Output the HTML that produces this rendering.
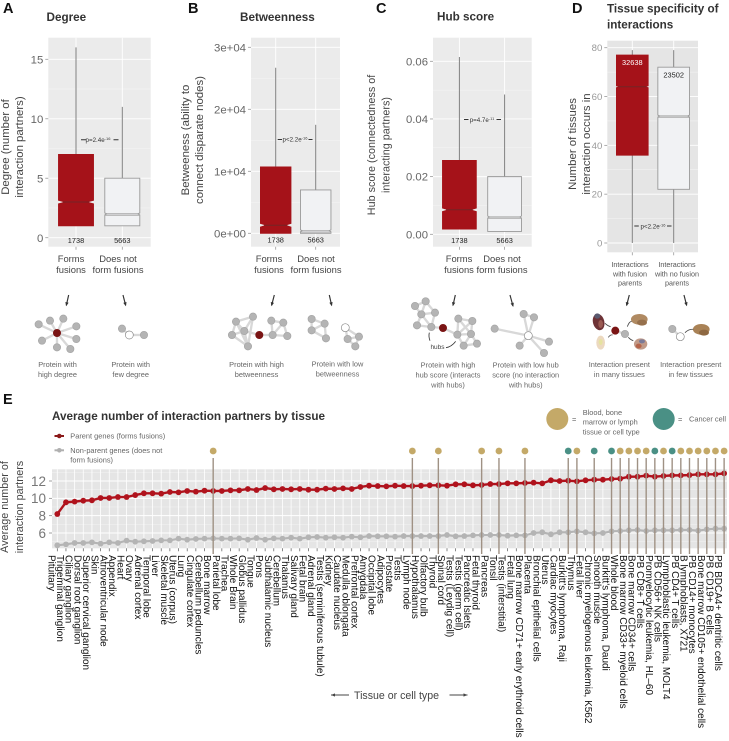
<!DOCTYPE html>
<html lang="en">
<head>
<meta charset="utf-8">
<title>Interaction network properties of fusion parents</title>
<style>
html,body{margin:0;padding:0;background:#fff;}
svg{display:block;font-family:"Liberation Sans",sans-serif;}
.letter{font-size:14.5px;font-weight:bold;fill:#111;}
.title{font-size:11.7px;font-weight:bold;fill:#333;}
.ytitle{font-size:10.8px;fill:#444;text-anchor:middle;}
.ytitle.wide{font-size:11.4px;}
.cat{font-size:9.4px;fill:#444;text-anchor:middle;}
.cat2{font-size:7.2px;fill:#555;text-anchor:middle;}
.cap{font-size:7.4px;fill:#666;text-anchor:middle;}
.pv{font-size:6.2px;fill:#333;text-anchor:middle;}
.leg{font-size:7.4px;fill:#666;}
</style>
</head>
<body>
<svg xmlns="http://www.w3.org/2000/svg" width="729" height="741" viewBox="0 0 729 741">
<rect width="729" height="741" fill="#fff"/>

<g id="panelA"></g>
<g id="panelB"></g>
<g id="panelC"></g>
<g id="panelD"></g>
<g id="nets"></g>
<g id="panelE"></g>

<!-- panel letters and titles -->
<text class="letter" x="3" y="13">A</text>
<text class="letter" x="188" y="13">B</text>
<text class="letter" x="376" y="13">C</text>
<text class="letter" x="572" y="13">D</text>
<text class="letter" x="3" y="404">E</text>
<text class="title" x="46.5" y="21">Degree</text>
<text class="title" x="240" y="21">Betweenness</text>
<text class="title" x="437" y="20.5">Hub score</text>
<text class="title" x="607" y="12.5">Tissue specificity of</text>
<text class="title" x="607" y="28.5">interactions</text>
<text class="title" x="52" y="420">Average number of interaction partners by tissue</text>

<!-- y axis titles -->
<g>
<text class="ytitle wide" transform="translate(9,147) rotate(-90)">Degree (number of</text>
<text class="ytitle wide" transform="translate(23,147) rotate(-90)">interaction partners)</text>
</g>
<g>
<text class="ytitle wide" transform="translate(189,140) rotate(-90)">Betweeness (ability to</text>
<text class="ytitle wide" transform="translate(203,140) rotate(-90)">connect disparate nodes)</text>
</g>
<g>
<text class="ytitle" transform="translate(375,145) rotate(-90)">Hub score (connectedness of</text>
<text class="ytitle" transform="translate(389.5,145) rotate(-90)">interacting partners)</text>
</g>
<g>
<text class="ytitle wide" transform="translate(576,144) rotate(-90)">Number of tissues</text>
<text class="ytitle wide" transform="translate(590,144) rotate(-90)">interaction occurs in</text>
</g>
<g>
<text class="ytitle" transform="translate(8,507) rotate(-90)">Average number of</text>
<text class="ytitle" transform="translate(23,507) rotate(-90)">interaction partners</text>
</g>

<!-- category labels -->
<g>
<text class="cat" x="71" y="262">Forms</text><text class="cat" x="71" y="273">fusions</text>
<text class="cat" x="118" y="262">Does not</text><text class="cat" x="118" y="273">form fusions</text>
</g>
<g>
<text class="cat" x="269" y="262">Forms</text><text class="cat" x="269" y="273">fusions</text>
<text class="cat" x="316" y="262">Does not</text><text class="cat" x="316" y="273">form fusions</text>
</g>
<g>
<text class="cat" x="459" y="262">Forms</text><text class="cat" x="459" y="273">fusions</text>
<text class="cat" x="502" y="262">Does not</text><text class="cat" x="502" y="273">form fusions</text>
</g>
<g>
<text class="cat2" x="630" y="267">Interactions</text><text class="cat2" x="630" y="276.3">with fusion</text><text class="cat2" x="630" y="285.5">parents</text>
<text class="cat2" x="677" y="267">Interactions</text><text class="cat2" x="677" y="276.3">with no fusion</text><text class="cat2" x="677" y="285.5">parents</text>
</g>

<!-- p values -->
<g>
<text class="pv" x="98" y="142">p=2.4e<tspan dy="-2" font-size="4">-16</tspan></text>
<path d="M81 139.7h5M113.500 139.700h5" stroke="#333" stroke-width="1"/>
</g>
<g>
<text class="pv" x="295" y="141.500">p&lt;2.2e<tspan dy="-2" font-size="4">-16</tspan></text>
<path d="M277.700 139.500h4.300M308.500 139.500h4" stroke="#333" stroke-width="1"/>
</g>
<g>
<text class="pv" x="482" y="122">p=4.7e<tspan dy="-2" font-size="4">-11</tspan></text>
<path d="M464 119.500h4.500M496.500 119.500h4.500" stroke="#333" stroke-width="1"/>
</g>
<g>
<text class="pv" x="653" y="228.500">p&lt;2.2e<tspan dy="-2" font-size="4">-16</tspan></text>
<path d="M634.300 226h4.500M667 226h4.500" stroke="#333" stroke-width="1"/>
</g>

<!-- network captions -->
<g>
<text class="cap" x="57.500" y="367">Protein with</text><text class="cap" x="57.500" y="377">high degree</text>
<text class="cap" x="130.700" y="367">Protein with</text><text class="cap" x="130.700" y="377">few degree</text>
<text class="cap" x="256.500" y="367">Protein with high</text><text class="cap" x="256.500" y="377">betweenness</text>
<text class="cap" x="337.500" y="366.500">Protein with low</text><text class="cap" x="337.500" y="376.500">betweenness</text>
<text class="cap" x="448" y="367.500">Protein with high</text><text class="cap" x="448" y="377.500">hub score (interacts</text><text class="cap" x="448" y="387.500">with hubs)</text>
<text class="cap" x="525.700" y="367.500">Protein with low hub</text><text class="cap" x="525.700" y="377.500">score (no interaction</text><text class="cap" x="525.700" y="387.500">with hubs)</text>
<text class="cap" x="619.300" y="367">Interaction present</text><text class="cap" x="619.300" y="377">in many tissues</text>
<text class="cap" x="690.700" y="367">Interaction present</text><text class="cap" x="690.700" y="377">in few tissues</text>
<text class="cap" x="437.500" y="349" style="fill:#444;font-size:6.5px">hubs</text>
</g>

<!-- legends -->
<g>
<line x1="54.500" x2="64" y1="436" y2="436" stroke="#8b1a1a" stroke-width="2"/>
<circle cx="59.300" cy="436" r="2.300" fill="#8b1a1a"/>
<text class="leg" x="70.300" y="438.700">Parent genes (forms fusions)</text>
</g>
<g>
<line x1="54.500" x2="64" y1="450.300" y2="450.300" stroke="#b0b0b0" stroke-width="2"/>
<circle cx="59.300" cy="450.300" r="2.300" fill="#b0b0b0"/>
<text class="leg" x="70.300" y="453">Non-parent genes (does not</text>
<text class="leg" x="70.300" y="462.300">form fusions)</text>
</g>
<g>
<circle cx="557.300" cy="419" r="11" fill="#c4a968"/>
<text class="leg" x="572" y="422">=</text>
<text class="leg" x="582.700" y="415">Blood, bone</text>
<text class="leg" x="582.700" y="424.700">marrow or lymph</text>
<text class="leg" x="582.700" y="434.300">tissue or cell type</text>
</g>
<g>
<circle cx="663.700" cy="419" r="11" fill="#4a9085"/>
<text class="leg" x="678" y="422">=</text>
<text class="leg" x="689" y="421.700">Cancer cell</text>
</g>

<!-- x axis title for tissue chart -->
<g>
<text x="354" y="699" font-size="10.600" fill="#444">Tissue or cell type</text>
<path d="M331 695h18M449.500 695h18" stroke="#444" stroke-width="0.900"/>
<path d="M331 695l4-1.600v3.200zM467.500 695l-4-1.600v3.200z" fill="#444"/>
</g>

<script>
// ---------- Panel A: degree ----------
const degreeTicks = [0, 5, 10, 15];
const degreeTickLabels = ['0', '5', '10', '15'];
const degreeQ1 = [1, 1];
const degreeMedian = [3, 2];
const degreeQ3 = [7, 5];
const degreeWhiskerLow = [1, 1];
const degreeWhiskerHigh = [16, 11];
const degreeCounts = ['1738', '5663'];

// ---------- Panel B: betweenness ----------
const betweennessTicks = [0, 10000, 20000, 30000];
const betweennessTickLabels = ['0e+00', '1e+04', '2e+04', '3e+04'];
const betweennessQ1 = [0, 0];
const betweennessMedian = [1300, 400];
const betweennessQ3 = [10700, 7000];
const betweennessWhiskerLow = [0, 0];
const betweennessWhiskerHigh = [26700, 17500];
const betweennessCounts = ['1738', '5663'];

// ---------- Panel C: hub score ----------
const hubTicks = [0, 0.02, 0.04, 0.06];
const hubTickLabels = ['0.00', '0.02', '0.04', '0.06'];
const hubQ1 = [0.0018, 0.001];
const hubMedian = [0.0085, 0.006];
const hubQ3 = [0.0256, 0.02];
const hubWhiskerLow = [0.0018, 0.001];
const hubWhiskerHigh = [0.0615, 0.0485];
const hubCounts = ['1738', '5663'];

// ---------- Panel D: tissue specificity ----------
const tissueTicks = [0, 20, 40, 60, 80];
const tissueTickLabels = ['0', '20', '40', '60', '80'];
const tissueQ1 = [36, 22];
const tissueMedian = [64, 52];
const tissueQ3 = [77, 72];
const tissueWhiskerLow = [0, 0];
const tissueWhiskerHigh = [79, 79];
const tissueCounts = ['32638', '23502'];

// ---------- Panel E: interaction partners by tissue ----------
const tissues = ['Pituitary','Trigeminal ganglion','Ciliary ganglion','Dorsal root ganglion','Superior cervical ganglion','Skin','Atrioventricular node','Appendix','Heart','Ovary','Adrenal cortex','Temporal lobe','Liver','Skeletal muscle','Uterus (corpus)','Lung','Cingulate cortex','Cerebellum peduncles','Bone marrow','Parietal lobe','Trachea','Whole Brain','Globus pallidus','Tongue','Pons','Subthalamic nucleus','Cerebellum','Thalamus','Salivary gland','Fetal brain','Adrenal gland','Testis (seminiferous tubule)','Kidney','Caudate nucleus','Medulla oblongata','Prefrontal cortex','Amygdala','Occipital lobe','Adipocytes','Prostate','Testis','Lymph node','Hypothalamus','Olfactory bulb','Thyroid','Spinal cord','Testis (Leydig cell)','Testis (germ cell)','Pancreatic Islets','Fetal thyroid','Pancreas','Tonsil','Testis (interstitial)','Fetal lung','Bone marrow CD71+ early erythroid cells','Placenta','Bronchial epithelial cells','Uterus','Cardiac myocytes',"Burkitt's lymphoma, Raji",'Thymus','Fetal liver','Chronic myelogenous leukemia, K562','Smooth muscle',"Burkitt's lymphoma, Daudi",'Whole blood','Bone marrow CD33+ myeloid cells','Bone marrow CD34+ cells','PB CD8+ T cells','Promyelocytic leukemia, HL\u201360','PB CD56+ NK cells','Lymphoblastic leukemia, MOLT4','PB CD4+ T cells','B lymphoblasts, X721','PB CD14+ monocytes','Bone marrow CD105+ endothelial cells','PB CD19+ B cells','PB BDCA4+ dentritic cells'];
const parentValues = [8.19,9.54,9.62,9.73,9.77,10.04,10.04,10.15,10.15,10.38,10.58,10.58,10.54,10.73,10.69,10.85,10.77,10.88,10.85,10.85,10.92,10.92,11.08,10.96,11.19,11.04,11.08,11.04,11.08,11.00,11.00,11.12,11.08,11.15,11.08,11.31,11.46,11.42,11.38,11.46,11.42,11.42,11.46,11.50,11.50,11.46,11.62,11.62,11.50,11.54,11.65,11.65,11.73,11.73,11.77,11.81,11.73,12.08,12.00,12.04,11.96,12.08,12.15,12.15,12.23,12.27,12.50,12.50,12.62,12.50,12.58,12.65,12.65,12.69,12.77,12.77,12.77,12.88];
const nonParentValues = [4.58,4.69,4.85,4.85,4.92,4.77,4.92,4.85,5.12,5.00,5.04,5.08,5.15,5.15,5.35,5.23,5.31,5.35,5.38,5.35,5.35,5.38,5.23,5.42,5.23,5.38,5.35,5.46,5.35,5.50,5.54,5.46,5.50,5.46,5.58,5.50,5.65,5.62,5.62,5.58,5.65,5.65,5.65,5.65,5.65,5.77,5.62,5.65,5.73,5.77,5.77,5.77,5.69,5.73,5.73,6.00,6.08,5.85,6.08,6.08,6.19,6.08,5.96,6.00,6.19,6.23,6.31,6.35,6.23,6.31,6.31,6.31,6.35,6.35,6.27,6.42,6.50,6.50];
const tissueYTicks = [6, 8, 10, 12];
const tissueYMinorTicks = [5, 7, 9, 11, 13];
const highlightedTissues = ['Bone marrow','Lymph node','Thyroid','Fetal thyroid','Tonsil','Bone marrow CD71+ early erythroid cells','Thymus','Whole blood','Bone marrow CD33+ myeloid cells','Bone marrow CD34+ cells','PB CD8+ T cells','PB CD56+ NK cells','PB CD4+ T cells','B lymphoblasts, X721','PB CD14+ monocytes','Bone marrow CD105+ endothelial cells','PB CD19+ B cells','PB BDCA4+ dentritic cells'];
const cancerTissues = ["Burkitt's lymphoma, Raji",'Chronic myelogenous leukemia, K562',"Burkitt's lymphoma, Daudi",'Promyelocytic leukemia, HL\u201360','Lymphoblastic leukemia, MOLT4'];

const SVGNS = 'http://www.w3.org/2000/svg';
function mk(tag, attrs, parent) {
  const e = document.createElementNS(SVGNS, tag);
  for (const k in attrs) e.setAttribute(k, attrs[k]);
  parent.appendChild(e);
  return e;
}

function drawBoxPanel(o) {
  const g = document.getElementById(o.group);
  const y = v => o.yA + (v - o.vA) / (o.vB - o.vA) * (o.yB - o.yA);
  const x = i => o.cx0 + i * o.cxStep;
  const bg = mk('rect', {x: o.left, y: o.top, width: o.right - o.left, height: o.bottom - o.top, fill: o.bg}, g);
  
  
  // minor grid
  for (let i = 0; i < o.ticks.length - 1; i++) {
    const gm = mk('line', {x1: o.left, x2: o.right, y1: y((o.ticks[i] + o.ticks[i + 1]) / 2), y2: y((o.ticks[i] + o.ticks[i + 1]) / 2), stroke: '#f5f5f5', 'stroke-width': 0.5}, g);
    
    
  }
  o.ticks.forEach((t, i) => {
    const gl = mk('line', {x1: o.left, x2: o.right, y1: y(t), y2: y(t), stroke: '#fff', 'stroke-width': 0.9}, g);
    
    
    const tk = mk('line', {x1: o.left - 3, x2: o.left, y1: y(t), y2: y(t), stroke: '#999', 'stroke-width': 0.8}, g);
    
    
    const lb = mk('text', {x: o.left - 5, y: y(t) + o.tickSize * 0.36, 'text-anchor': 'end', 'font-size': o.tickSize, fill: o.tickColor}, g);
    lb.textContent = o.tickLabels[i];
    
    
  });
  o.median.forEach((m, i) => {
    const cx = x(i), l = cx - o.boxW / 2, r = cx + o.boxW / 2;
    const isRed = i === 0;
    const fill = isRed ? '#a51219' : '#f1f2f4';
    const stroke = isRed ? '#a51219' : '#999';
    const vg = mk('line', {x1: cx, x2: cx, y1: o.top, y2: o.bottom, stroke: '#fff', 'stroke-width': 0.9}, g);
    
    
    const tk = mk('line', {x1: cx, x2: cx, y1: o.bottom, y2: o.bottom + 3, stroke: '#999', 'stroke-width': 0.8}, g);
    
    
    const wh = mk('line', {x1: cx, x2: cx, y1: y(o.whiskerHigh[i]), y2: y(o.whiskerLow[i]), stroke: '#808080', 'stroke-width': 1}, g);
    
    
    const a = y(o.q3[i]), b = y(o.q1[i]), c = y(m);
    const nh = isRed ? o.notchH : 1, nw = isRed ? o.notchW : 2;
    const pts = [[l,a],[r,a],[r,c-nh],[r-nw,c],[r,c+nh],[r,b],[l,b],[l,c+nh],[l+nw,c],[l,c-nh]];
    const box = mk('polygon', {points: pts.map(p => p.join(',')).join(' '), fill: fill, stroke: stroke, 'stroke-width': 0.9}, g);
    
    
    if (!isRed) {
      const sl = mk('line', {x1: l, x2: r, y1: c + 1.6, y2: c + 1.6, stroke: '#aaa', 'stroke-width': 0.7}, g);
      
      
    }
    const md = mk('line', {x1: l + nw * 0.6, x2: r - nw * 0.6, y1: c, y2: c, stroke: isRed ? '#742426' : '#999', 'stroke-width': 1}, g);
    
    
    const n = mk('text', {x: cx, y: o.countY[i], 'text-anchor': 'middle', 'font-size': 7.4, fill: (o.countLight && i === 0) ? '#fff' : '#222'}, g);
    n.textContent = o.counts[i];
    
    
  });
}

drawBoxPanel({group:'panelA',left:48.3,right:150.7,top:37.7,bottom:246.7,bg:'#ebebeb',vA:0,yA:237.7,vB:15,yB:59.3,cx0:76,cxStep:46.3,boxW:35,notchH:1.8,notchW:7,tickSize:11.4,tickColor:'#666',ticks:degreeTicks,tickLabels:degreeTickLabels,q1:degreeQ1,median:degreeMedian,q3:degreeQ3,whiskerLow:degreeWhiskerLow,whiskerHigh:degreeWhiskerHigh,counts:degreeCounts,countY:[243,243]});
drawBoxPanel({group:'panelB',left:251,right:340,top:37.7,bottom:246.7,bg:'#ebebeb',vA:0,yA:233.3,vB:30000,yB:47.3,cx0:275.7,cxStep:40,boxW:30.5,notchH:1.8,notchW:6,tickSize:11.4,tickColor:'#666',ticks:betweennessTicks,tickLabels:betweennessTickLabels,q1:betweennessQ1,median:betweennessMedian,q3:betweennessQ3,whiskerLow:betweennessWhiskerLow,whiskerHigh:betweennessWhiskerHigh,counts:betweennessCounts,countY:[242.5,242.5]});
drawBoxPanel({group:'panelC',left:433,right:531.7,top:37.7,bottom:246.7,bg:'#ebebeb',vA:0,yA:234.3,vB:0.06,yB:61.3,cx0:459.4,cxStep:45.2,boxW:33.8,notchH:1.8,notchW:6,tickSize:11.3,tickColor:'#666',ticks:hubTicks,tickLabels:hubTickLabels,q1:hubQ1,median:hubMedian,q3:hubQ3,whiskerLow:hubWhiskerLow,whiskerHigh:hubWhiskerHigh,counts:hubCounts,countY:[243,243]});
drawBoxPanel({group:'panelD',left:607.3,right:698,top:40.7,bottom:252.3,bg:'#e5e5e5',vA:0,yA:243,vB:80,yB:47.7,cx0:632.3,cxStep:41.4,boxW:31.7,notchH:1,notchW:3,tickSize:9.6,tickColor:'#999',ticks:tissueTicks,tickLabels:tissueTickLabels,q1:tissueQ1,median:tissueMedian,q3:tissueQ3,whiskerLow:tissueWhiskerLow,whiskerHigh:tissueWhiskerHigh,counts:tissueCounts,countY:[65,77.5],countLight:true});

// ---------- Panel E ----------
(function () {
  const g = document.getElementById('panelE');
  const xE = i => 57.3 + i * 8.66;
  const yE = v => 481 + (12 - v) * 8.667;
  const left = 52, right = 727, top = 469.3, bottom = 548.3;
  const bg = mk('rect', {x: left, y: top, width: right - left, height: bottom - top, fill: '#e5e5e5'}, g);
  
  
  tissueYMinorTicks.forEach(t => {
    const l = mk('line', {x1: left, x2: right, y1: yE(t), y2: yE(t), stroke: '#f4f4f4', 'stroke-width': 0.5}, g);
    
    
  });
  tissueYTicks.forEach(t => {
    const l = mk('line', {x1: left, x2: right, y1: yE(t), y2: yE(t), stroke: '#fff', 'stroke-width': 1}, g);
    
    
    const tk = mk('line', {x1: left - 3, x2: left, y1: yE(t), y2: yE(t), stroke: '#888', 'stroke-width': 0.8}, g);
    
    
    const lb = mk('text', {x: left - 6, y: yE(t) + 4.8, 'text-anchor': 'end', 'font-size': 13.5, fill: '#777'}, g);
    lb.textContent = String(t);
    
    
  });
  tissues.forEach((t, i) => {
    const v = mk('line', {x1: xE(i), x2: xE(i), y1: top, y2: bottom, stroke: '#fff', 'stroke-width': 0.8}, g);
    
    
    const tk = mk('line', {x1: xE(i), x2: xE(i), y1: bottom, y2: bottom + 3, stroke: '#555', 'stroke-width': 0.7}, g);
    
    
    const lb = mk('text', {transform: 'translate(' + (xE(i) - 9) + ',555) rotate(90)', 'font-size': 10, fill: '#111'}, g);
    lb.textContent = t;
    
    
  });
  function series(vals, color, w, name) {
    const p = mk('polyline', {points: vals.map((v, i) => xE(i) + ',' + yE(v)).join(' '), fill: 'none', stroke: color, 'stroke-width': w}, g);
    
    
    vals.forEach((v, i) => {
      const c = mk('circle', {cx: xE(i), cy: yE(v), r: 2.9, fill: color}, g);
      
      
    });
  }
  series(nonParentValues, '#b4b4b4', 2.1, 'non-parent-genes');
  series(parentValues, '#b0131d', 2.4, 'parent-genes');
  function stem(name, colour, isCancer) {
    const i = tissues.indexOf(name);
    const s = mk('line', {x1: xE(i), x2: xE(i), y1: 458, y2: 554, stroke: '#9f9184', 'stroke-width': 1.4}, g);
    
    
    const d = mk('circle', {cx: xE(i), cy: 451, r: 3.4, fill: colour}, g);
    
    
  }
  highlightedTissues.forEach(t => stem(t, '#c4a968', false));
  cancerTissues.forEach(t => stem(t, '#4a9085', true));
})();

// ---------- Network diagrams (coordinates in 3x units, anchored at 0,280 or 360,280) ----------
const G = 'g', R = 'r', W = 'w';
function drawNet(name, ox, nodes, edges) {
  const host = document.getElementById('nets');
  const g = mk('g', {transform: 'translate(' + ox + ',280) scale(0.3333)'}, host);
  
  
  edges.forEach(e => {
    mk('line', {x1: nodes[e[0]][0], y1: nodes[e[0]][1], x2: nodes[e[1]][0], y2: nodes[e[1]][1], stroke: '#d8d8d8', 'stroke-width': 7}, g);
  });
  nodes.forEach(n => {
    const f = n[2] === R ? '#7a1414' : n[2] === W ? '#fff' : '#b4b4b4';
    const s = n[2] === R ? '#7a1414' : n[2] === W ? '#8a8a8a' : '#a5a5a5';
    mk('circle', {cx: n[0], cy: n[1], r: n[2] === W ? 12 : 11, fill: f, stroke: s, 'stroke-width': 2}, g);
  });
}
function arrows(ox, list) {
  const host = document.getElementById('nets');
  const g = mk('g', {transform: 'translate(' + ox + ',280) scale(0.3333)', stroke: '#333', fill: '#333'}, host);
  
  
  list.forEach(a => {
    mk('line', {x1: a[0], y1: a[1], x2: a[2], y2: a[3], 'stroke-width': 3.5}, g);
    const dx = a[2] - a[0], dy = a[3] - a[1], L = Math.hypot(dx, dy), ux = dx / L, uy = dy / L;
    mk('polygon', {points: [(a[2] + ux * 3) + ',' + (a[3] + uy * 3), (a[2] - ux * 9 - uy * 5) + ',' + (a[3] - uy * 9 + ux * 5), (a[2] - ux * 9 + uy * 5) + ',' + (a[3] - uy * 9 - ux * 5)].join(' '), stroke: 'none'}, g);
  });
}
drawNet('high-degree-network', 0, [[171,159,R],[116,133,G],[150,122,G],[190,116,G],[229,139,G],[229,177,G],[211,207,G],[171,202,G],[126,182,G]], [[0,1],[0,2],[0,3],[0,4],[0,5],[0,6],[0,7],[0,8]]);
drawNet('few-degree-network', 0, [[388,165,W],[366,146,G],[432,165,G]], [[0,1],[0,2]]);
drawNet('high-betweenness-network', 0, [[778,165,R],[708,125,G],[759,110,G],[733,153,G],[696,165,G],[744,199,G],[814,122,G],[850,128,G],[818,165,G],[862,168,G]], [[1,2],[1,3],[1,4],[2,3],[2,5],[3,5],[4,3],[4,5],[1,5],[0,3],[0,8],[6,7],[6,8],[7,9],[8,9],[8,7]]);
drawNet('low-betweenness-network', 0, [[935,117,G],[974,131,G],[935,151,G],[978,175,G],[1036,143,W],[1043,177,G],[1077,170,G],[1066,199,G]], [[0,1],[0,2],[1,2],[1,3],[2,3],[4,6],[4,5],[5,6],[5,7],[6,7]]);
drawNet('high-hub-score-network', 360, [[249,144,R],[165,78,G],[197,64,G],[184,103,G],[225,98,G],[171,136,G],[214,141,G],[295,116,G],[337,123,G],[292,164,G],[333,162,G],[311,197,G],[351,191,G]], [[0,6],[0,9],[1,2],[1,3],[2,4],[2,3],[3,4],[3,5],[4,6],[5,6],[3,6],[7,8],[7,9],[7,10],[8,10],[9,10],[9,11],[10,11],[10,12],[11,12],[8,9]]);
drawNet('low-hub-score-network', 360, [[505,167,W],[404,146,G],[491,102,G],[522,112,G],[567,185,G],[479,197,G],[552,219,G]], [[0,1],[0,2],[0,3],[0,4],[0,5],[0,6],[2,3]]);
drawNet('many-tissues-network', 360, [[766,152,R],[795,162,G]], [[0,1]]);
drawNet('few-tissues-network', 360, [[961,170,W],[937,147,G]], [[0,1]]);
arrows(0, [[206,45,199,76],[369,45,377,76],[823,45,815,76],[988,45,995,76]]);
arrows(360, [[286,45,279,76],[450,45,459,78],[808,45,800,76],[972,45,980,76]]);

// tissue illustrations
(function () {
  const host = document.getElementById('nets');
  const g = mk('g', {transform: 'translate(360,280) scale(0.3333)'}, host);
  
  
  // heart
  mk('ellipse', {cx: 716, cy: 126, rx: 17, ry: 25, fill: '#6e3236', transform: 'rotate(-15 716 126)'}, g);
  mk('ellipse', {cx: 712, cy: 108, rx: 9, ry: 8, fill: '#5a5a70'}, g);
  mk('ellipse', {cx: 722, cy: 132, rx: 7, ry: 12, fill: '#9a5a52'}, g);
  // kidney
  mk('ellipse', {cx: 722, cy: 188, rx: 13, ry: 21, fill: '#ecd9c0'}, g);
  mk('ellipse', {cx: 722, cy: 186, rx: 6, ry: 9, fill: '#e6e2a0'}, g);
  // brain
  mk('ellipse', {cx: 838, cy: 118, rx: 25, ry: 16, fill: '#b08a62'}, g);
  mk('ellipse', {cx: 846, cy: 128, rx: 15, ry: 9, fill: '#96704c'}, g);
  // tissue
  mk('ellipse', {cx: 842, cy: 192, rx: 20, ry: 17, fill: '#c09a88'}, g);
  mk('ellipse', {cx: 846, cy: 184, rx: 9, ry: 6, fill: '#7a7a98'}, g);
  mk('ellipse', {cx: 836, cy: 198, rx: 9, ry: 7, fill: '#b5644a'}, g);
  // brain 2
  mk('ellipse', {cx: 1024, cy: 148, rx: 25, ry: 16, fill: '#a98256'}, g);
  mk('ellipse', {cx: 1032, cy: 158, rx: 15, ry: 9, fill: '#8e6842'}, g);
  [[735,130,752,140],[745,172,758,165],[802,140,815,125],[805,172,820,182],[975,158,1000,148]].forEach(a => {
    mk('path', {d: 'M' + a[0] + ' ' + a[1] + ' Q ' + ((a[0] + a[2]) / 2) + ' ' + (a[3] - 2) + ' ' + a[2] + ' ' + a[3], fill: 'none', stroke: '#444', 'stroke-width': 2.5}, g);
  });
  // hubs pointers
  mk('path', {d: 'M210 182 Q205 170 208 158', fill: 'none', stroke: '#333', 'stroke-width': 2.5}, g);
  mk('path', {d: 'M258 203 Q275 200 287 184', fill: 'none', stroke: '#333', 'stroke-width': 2.5}, g);
})();
</script>
</svg>
</body>
</html>
